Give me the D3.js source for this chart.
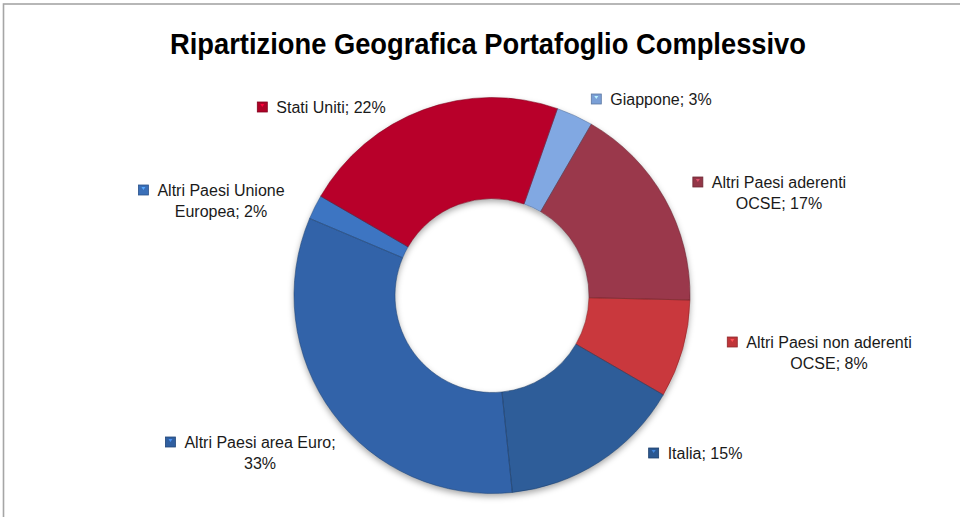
<!DOCTYPE html>
<html>
<head>
<meta charset="utf-8">
<script src="https://cdn.jsdelivr.net/npm/d3@7"></script>
<style>
  html, body { margin: 0; padding: 0; background: #fff; }
  svg { display: block; }
</style>
</head>
<body>
<svg id="chart" width="960" height="517"></svg>
<script>
// ---- data (clockwise order, starting from Giappone) ----
const categories = ["Giappone", "Altri Paesi aderenti OCSE", "Altri Paesi non aderenti OCSE", "Italia", "Altri Paesi area Euro", "Altri Paesi Unione Europea", "Stati Uniti"];
const values = [3, 17, 8, 15, 33, 2, 22];
const labelLines = [
  ["Giappone; 3%"],
  ["Altri Paesi aderenti", "OCSE; 17%"],
  ["Altri Paesi non aderenti", "OCSE; 8%"],
  ["Italia; 15%"],
  ["Altri Paesi area Euro;", "33%"],
  ["Altri Paesi Unione", "Europea; 2%"],
  ["Stati Uniti; 22%"]
];
const title = "Ripartizione Geografica Portafoglio Complessivo";

// ---- styles / layout ----
const colors = ["#7A9FD6", "#923647", "#BF3539", "#2B5891", "#305FA0", "#3A6FB8", "#AE0227"];
// label block centre x (of text lines) and first line centre y
const labelPos = [
  [661, 99], [779, 182], [829, 342], [705, 453], [260, 442], [221, 190], [331, 107]
];

const svg = d3.select("#chart");
const W = 960, H = 517;
const cx = 492, cy = 295.5, R = 198, r = 97;

// frame
svg.append("rect").attr("x", 3.5).attr("y", 4).attr("width", W + 10).attr("height", H + 10)
  .attr("fill", "#fff").attr("stroke", "#A6A6A6").attr("stroke-width", 1.6);

// title
svg.append("text")
  .attr("x", 488).attr("y", 54)
  .attr("text-anchor", "middle")
  .attr("font-family", "'Liberation Sans', Arial, sans-serif")
  .attr("font-weight", "bold")
  .attr("font-size", 30)
  .attr("textLength", 636)
  .attr("lengthAdjust", "spacingAndGlyphs")
  .attr("fill", "#000")
  .text(title);

const defs = svg.append("defs");
const shadow = defs.append("filter").attr("id", "shadow")
  .attr("x", "-20%").attr("y", "-20%").attr("width", "140%").attr("height", "140%");
shadow.append("feDropShadow").attr("dx", 0).attr("dy", 3).attr("stdDeviation", 3)
  .attr("flood-color", "#000").attr("flood-opacity", 0.35);

// per-slice gradients (slightly lighter top-left, darker bottom)
colors.forEach((c, i) => {
  const g = defs.append("linearGradient").attr("id", "grad" + i)
    .attr("gradientUnits", "userSpaceOnUse")
    .attr("x1", cx - R).attr("y1", cy - R).attr("x2", cx + R * 0.3).attr("y2", cy + R);
  g.append("stop").attr("offset", "0%").attr("stop-color", d3.color(c).brighter(0.15));
  g.append("stop").attr("offset", "100%").attr("stop-color", d3.color(c).darker(0.12));
});

const startAngle = 19.3 * Math.PI / 180;
const pie = d3.pie().sort(null).value(d => d)
  .startAngle(startAngle).endAngle(startAngle + 2 * Math.PI);
const arcs = pie(values);
const arc = d3.arc().innerRadius(r).outerRadius(R);

const gPie = svg.append("g").attr("transform", `translate(${cx},${cy})`);
const gShadow = gPie.append("g").attr("filter", "url(#shadow)");
gShadow.selectAll("path.base").data(arcs).join("path")
  .attr("class", "base")
  .attr("d", arc)
  .attr("fill", (d, i) => `url(#grad${i})`);

// bevel highlight clipped into each slice
arcs.forEach((d, i) => {
  const cp = defs.append("clipPath").attr("id", "clip" + i);
  cp.append("path").attr("d", arc(d)).attr("transform", `translate(${cx},${cy})`);
});
const gBevel = svg.append("g");
gBevel.selectAll("path").data(arcs).join("path")
  .attr("transform", `translate(${cx},${cy})`)
  .attr("clip-path", (d, i) => `url(#clip${i})`)
  .attr("d", arc)
  .attr("fill", "none")
  .attr("stroke", (d, i) => d3.color(colors[i]).brighter(0.6))
  .attr("stroke-opacity", 0.45)
  .attr("stroke-width", 6);
gPie.append("g").selectAll("path").data(arcs).join("path")
  .attr("d", arc)
  .attr("fill", "none")
  .attr("stroke", (d, i) => d3.color(colors[i]).darker(1))
  .attr("stroke-opacity", 0.6)
  .attr("stroke-width", 0.9);

// labels
const fontSize = 16;
const lineH = 21;
const gLab = svg.append("g")
  .attr("font-family", "'Liberation Sans', Arial, sans-serif")
  .attr("font-size", fontSize)
  .attr("fill", "#1a1a1a");

labelLines.forEach((lines, i) => {
  const [lx, ly] = labelPos[i];
  const g = gLab.append("g");
  const texts = [];
  lines.forEach((ln, j) => {
    const t = g.append("text")
      .attr("x", lx).attr("y", ly + j * lineH)
      .attr("dy", "0.36em")
      .attr("text-anchor", "middle")
      .text(ln);
    texts.push(t);
  });
  const w0 = texts[0].node().getComputedTextLength();
  const mx = lx - w0 / 2 - 19;
  const c = d3.color(colors[i]);
  g.append("rect")
    .attr("x", mx).attr("y", ly - 5)
    .attr("width", 10).attr("height", 10)
    .attr("fill", c.formatHex())
    .attr("stroke", c.darker(0.8).formatHex())
    .attr("stroke-width", 0.8);
  g.append("path")
    .attr("d", `M${mx + 3},${ly - 3} L${mx + 7},${ly - 3} L${mx + 5},${ly}Z`)
    .attr("fill", c.brighter(1.2).formatHex());
});
</script>
</body>
</html>
